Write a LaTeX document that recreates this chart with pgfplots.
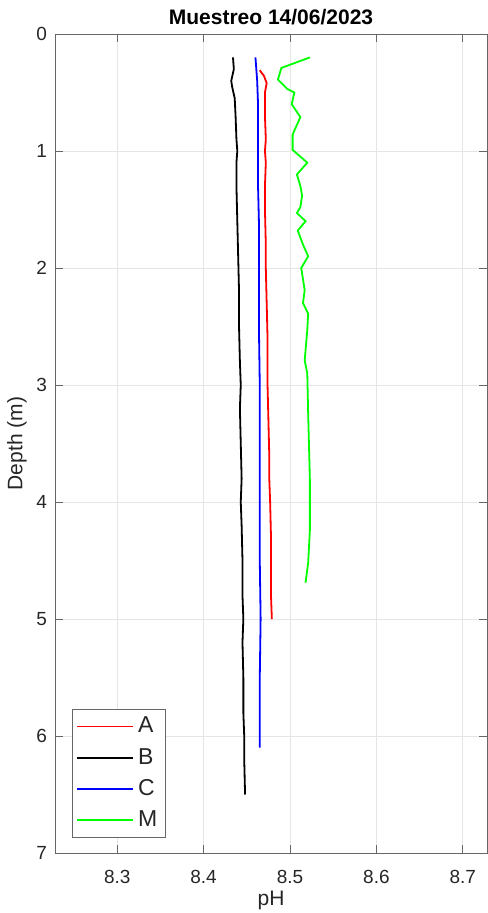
\documentclass[border=0pt]{standalone}
\usepackage{pgfplots}
\pgfplotsset{compat=1.18}
\usepackage{fontspec}
\setmainfont{Liberation Sans}
\definecolor{axgray}{rgb}{0.15,0.15,0.15}
\definecolor{gridgray}{rgb}{0.9,0.9,0.9}
\begin{document}
\begin{tikzpicture}
\begin{axis}[
  scale only axis,
  width=216pt, height=409.5pt,
  xmin=8.228, xmax=8.728,
  ymin=0, ymax=7,
  y dir=reverse,
  xtick={8.3,8.4,8.5,8.6,8.7},
  ytick={0,1,2,3,4,5,6,7},
  xticklabel style={/pgf/number format/fixed,/pgf/number format/precision=1},
  /pgf/number format/assume math mode=true,
  tick align=inside,
  major tick length=4pt,
  tick style={axgray!70, line width=0.5pt},
  axis line style={axgray!70, line width=0.5pt},
  grid=major,
  major grid style={gridgray, line width=0.5pt},
  ticklabel style={font=\fontsize{9.5}{11}\selectfont, text=axgray},
  xticklabel style={yshift=-5pt},
  yticklabel style={xshift=-0.5pt},
  xlabel={pH},
  ylabel={Depth (m)},
  label style={font=\fontsize{10.5}{12}\selectfont, text=axgray},
  xlabel style={yshift=3pt},
  ylabel style={yshift=-2pt},
  title={\textbf{Muestreo 14/06/2023}},
  title style={font=\fontsize{10.5}{12}\selectfont, yshift=-5pt},
  legend style={at={(0.039,0.018)}, anchor=south west, draw=axgray!70, line width=0.5pt,
    font=\fontsize{11.5}{13}\selectfont, text=axgray, row sep=2.2pt, inner xsep=2pt, inner ysep=2pt},
  legend cell align=left,
  legend image code/.code={\draw[#1, line width=0.9pt] (0pt,0pt) -- (28pt,0pt);},
]
\addplot[red, line width=0.9pt] coordinates {
(8.465,0.31)(8.470,0.36)(8.473,0.42)(8.471,0.5)(8.471,0.7)(8.472,0.9)(8.471,1.0)(8.472,1.1)(8.471,1.3)(8.471,1.5)(8.472,1.8)(8.472,2.0)(8.473,2.3)(8.474,2.6)(8.474,3.0)(8.475,3.3)(8.476,3.6)(8.476,3.8)(8.477,4.0)(8.478,4.3)(8.478,4.6)(8.478,4.8)(8.479,5.0)
};
\addlegendentry{A}
\addplot[black, line width=0.9pt] coordinates {
(8.434,0.2)(8.435,0.3)(8.432,0.4)(8.433,0.45)(8.436,0.55)(8.437,0.7)(8.438,0.9)(8.439,1.0)(8.438,1.1)(8.438,1.3)(8.439,1.6)(8.440,1.9)(8.441,2.2)(8.441,2.5)(8.442,2.8)(8.443,3.0)(8.442,3.2)(8.443,3.5)(8.444,3.8)(8.443,4.0)(8.444,4.2)(8.445,4.5)(8.445,4.8)(8.446,5.0)(8.445,5.2)(8.446,5.5)(8.446,5.8)(8.447,6.0)(8.447,6.2)(8.448,6.5)
};
\addlegendentry{B}
\addplot[blue, line width=0.9pt] coordinates {
(8.460,0.2)(8.461,0.3)(8.462,0.4)(8.463,0.6)(8.463,1.0)(8.463,1.3)(8.464,1.6)(8.464,2.0)(8.464,2.5)(8.465,3.0)(8.465,3.5)(8.465,4.0)(8.465,4.5)(8.466,5.0)(8.465,5.5)(8.465,5.8)(8.465,6.1)
};
\addlegendentry{C}
\addplot[green, line width=0.9pt] coordinates {
(8.523,0.2)(8.490,0.29)(8.486,0.39)(8.497,0.47)(8.505,0.5)(8.502,0.6)(8.512,0.71)(8.503,0.86)(8.503,0.99)(8.520,1.1)(8.508,1.2)(8.512,1.3)(8.514,1.38)(8.512,1.48)(8.508,1.53)(8.518,1.6)(8.509,1.68)(8.515,1.8)(8.521,1.9)(8.513,2.0)(8.517,2.19)(8.515,2.3)(8.521,2.39)(8.520,2.53)(8.517,2.79)(8.520,2.9)(8.521,3.24)(8.523,3.81)(8.523,4.24)(8.521,4.52)(8.518,4.69)
};
\addlegendentry{M}
\end{axis}
\pgfresetboundingbox
\path ([shift={(-27.5pt,-30pt)}]current axis.south west) rectangle ([shift={(0.5pt,17pt)}]current axis.north east);
\end{tikzpicture}
\end{document}
